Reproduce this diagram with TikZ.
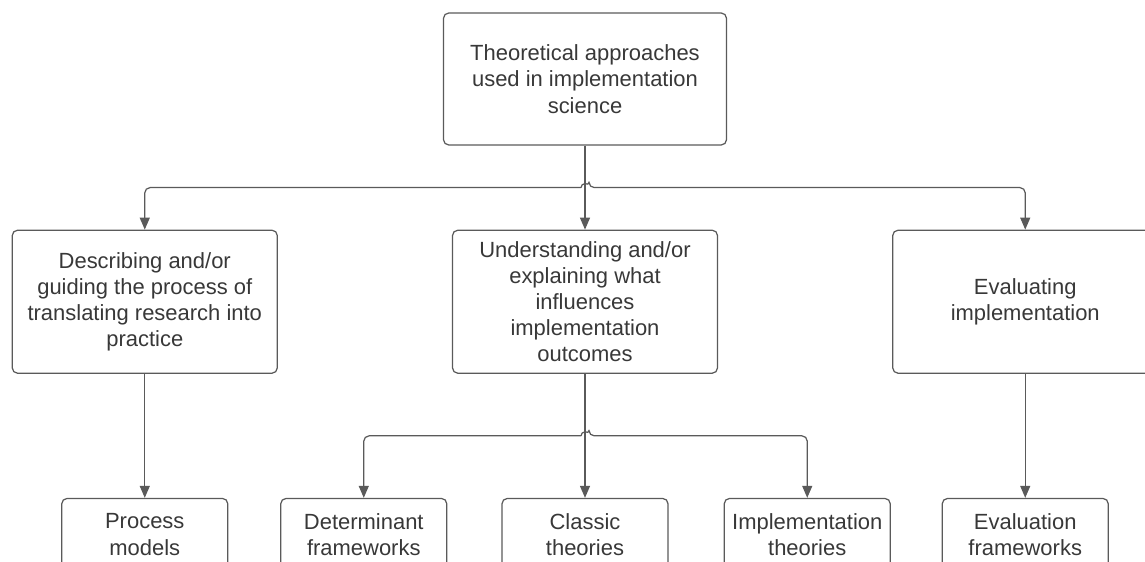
\documentclass[tikz,border=0pt]{standalone}
\usepackage{fontspec}
\setmainfont{Liberation Sans}
\usepackage{tikz}
\usetikzlibrary{arrows.meta, positioning, calc}
\usepackage{xcolor}
\definecolor{linegray}{HTML}{5A5A5A}
\definecolor{textgray}{HTML}{383838}
\tikzset{
  box/.style={
    rectangle, rounded corners=3pt, draw=linegray, line width=0.7pt,
    align=center, text=textgray, inner sep=0pt,
    font=\fontsize{12.5}{14.9}\selectfont
  },
  topbox/.style={box, minimum width=5.66cm, minimum height=2.64cm},
  midbox/.style={box, minimum width=5.3cm, minimum height=2.86cm},
  leafbox/.style={box, minimum width=3.32cm, minimum height=1.44cm},
  arrow/.style={-{Triangle[length=0.24cm, width=0.2cm]}, draw=linegray,
    line width=0.7pt, rounded corners=3pt}
}

\begin{document}
\begin{tikzpicture}
        \useasboundingbox (0,0) rectangle (22.9,-11.24);
        \node[topbox] (theory) at (11.7,-1.58)
          {Theoretical approaches\\ used in implementation\\ science};
        \node[midbox, below=1.68cm of theory] (influence)
          {Understanding and/or\\ explaining what\\ influences\\
           implementation\\ outcomes};
        \node[midbox, left=3.48cm of influence] (guiding)
          {Describing and/or\\ guiding the process of\\
           translating research into\\ practice};
        \node[midbox, right=3.48cm of influence] (evaluating)
          {Evaluating\\ implementation};
        \node[leafbox, below=2.48cm of guiding] (procmod)
          {Process\\ models};
        \node[leafbox, below=2.48cm of influence] (classic)
          {Classic\\ theories};
        \node[leafbox, left=1.08cm of classic] (determ)
          {Determinant\\ frameworks};
        \node[leafbox, right=1.1cm of classic] (impltheo)
          {Implementation\\ theories};
        \node[leafbox, below=2.48cm of evaluating] (evalfw)
          {Evaluation\\ frameworks};
        \coordinate (hopA) at ($(theory.south)!0.5!(influence.north)$);
        \coordinate (hopB) at ($(influence.south)!0.5!(classic.north)$);
        \draw[arrow] (theory) -- (influence);
        \draw[arrow] ([xshift=-0.08cm]hopA) -| (guiding);
        \draw[arrow] ([xshift=-0.08cm]hopA)
          arc[start angle=180, end angle=0, radius=0.08cm] -| (evaluating);
        \draw[arrow] (guiding) -- (procmod);
        \draw[arrow] (evaluating) -- (evalfw);
        \draw[arrow] (influence) -- (classic);
        \draw[arrow] ([xshift=-0.08cm]hopB) -| (determ);
        \draw[arrow] ([xshift=-0.08cm]hopB)
          arc[start angle=180, end angle=0, radius=0.08cm] -| (impltheo);
      \end{tikzpicture}
\end{document}
